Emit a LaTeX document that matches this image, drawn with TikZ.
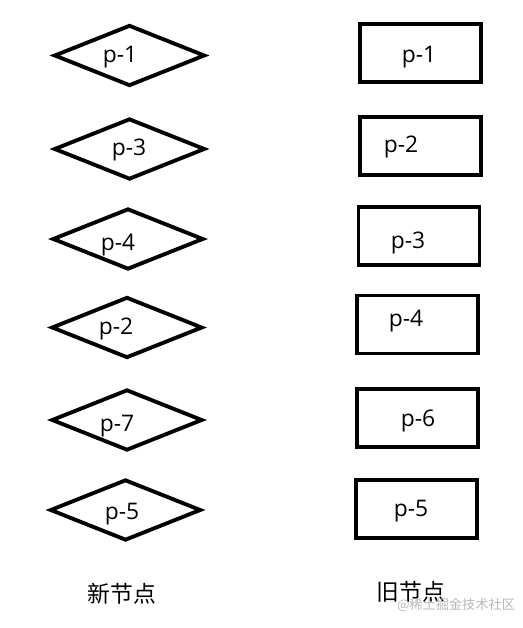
\documentclass[tikz,border=0pt]{standalone}
\usepackage{fontspec}
\setmainfont{Open Sans}
\newfontfamily\cjk{Noto Sans CJK SC}
\usetikzlibrary{shapes.geometric}

\tikzset{
 newnode/.style={draw,line width=2.2pt,diamond,aspect=2.4,inner sep=0pt,
   minimum width=3.02cm,minimum height=1.22cm},
 oldnode/.style={draw,line width=2.1pt,rectangle,inner sep=0pt,
   minimum width=2.42cm,minimum height=1.16cm},
 plabel/.style={inner sep=0pt,font=\fontsize{13}{15}\selectfont},
 coltitle/.style={font=\cjk\fontsize{13}{15}\selectfont}
}

\begin{document}
\begin{tikzpicture}[x=0.02cm,y=-0.02cm]
\useasboundingbox (0,0) rectangle (522,628);
% new list (diamonds)
\foreach \k/\x/\y/\tx/\ty/\t in {new1/129.5/55.5/120/57/p-1,new3/129.5/149/129/150/p-3,
  new4/128/239/118/245/p-4,new2/127/327.5/116/329/p-2,new7/127/420/117/426/p-7,
  new5/125.5/510/122/514/p-5}
 {\node[newnode] (\k) at (\x,\y) {};
  \node[plabel] (\k txt) at (\tx,\ty) {\t};}
% old list (boxes)
\foreach \k/\x/\y/\tx/\ty/\t in {old1/420.5/53/419/57/p-1,old2/420.5/146/401/147/p-2,
  old3/419/236/408/243/p-3,old4/417.5/324.5/406/321/p-4,old6/417.5/418/418/421/p-6,
  old5/416.5/509/411/511/p-5}
 {\node[oldnode] (\k) at (\x,\y) {};
  \node[plabel] (\k txt) at (\tx,\ty) {\t};}
\node[coltitle] (newtitle) at (122,594) {新节点};
\node[coltitle] (oldtitle) at (411,592) {旧节点};
\node[font=\cjk\fontsize{7.5}{9}\selectfont,text=black!28] (mark) at (456,605) {@稀土掘金技术社区};
\end{tikzpicture}
\end{document}
